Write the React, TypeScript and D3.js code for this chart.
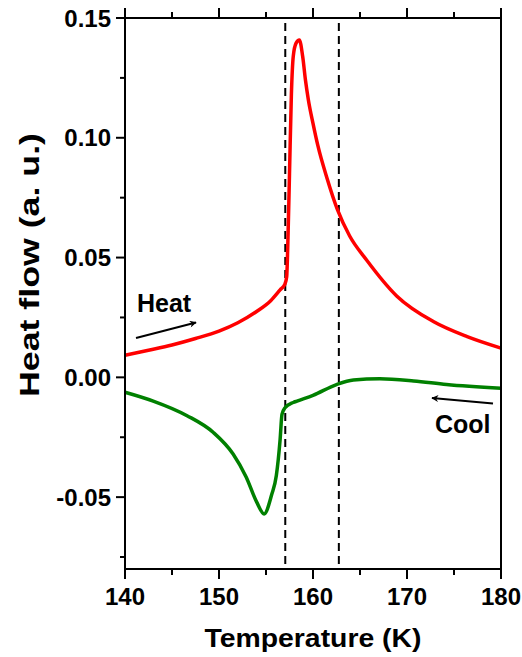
import React from 'react';
import * as d3 from 'd3';

// heating run (red)
const heatTemp = [140, 142.5, 145, 147.5, 150, 152, 154, 155.5, 156.5, 157, 157.2, 157.35, 157.5, 157.7, 157.9, 158.2, 158.55, 158.9, 159.2, 159.5, 160, 160.5, 161.5, 162.6, 163.9, 165.7, 168.9, 172.8, 176.4, 180];
const heatFlow = [0.0092, 0.0113, 0.0135, 0.0162, 0.0193, 0.0228, 0.0275, 0.032, 0.0365, 0.0388, 0.042, 0.06, 0.085, 0.118, 0.134, 0.1395, 0.1408, 0.134, 0.124, 0.116, 0.106, 0.097, 0.083, 0.07, 0.059, 0.049, 0.034, 0.0233, 0.017, 0.0122];

// cooling run (green)
const coolTemp = [140, 143, 146.6, 149.4, 151.5, 152.9, 154, 154.8, 155.6, 156.1, 156.5, 156.7, 157, 157.9, 158.3, 160, 162.5, 164.3, 167.1, 170.7, 174.2, 180];
const coolFlow = [-0.0062, -0.0099, -0.016, -0.023, -0.032, -0.0417, -0.052, -0.057, -0.049, -0.041, -0.026, -0.0155, -0.0128, -0.0105, -0.0099, -0.0075, -0.003, -0.0011, -0.0006, -0.0015, -0.003, -0.0046];

// transition markers
const markerTemps = [157.05, 162.75];

const xMajor = [140, 150, 160, 170, 180];
const xMinor = [145, 155, 165, 175];
const yMajor = [-0.05, 0, 0.05, 0.1, 0.15];
const yMinor = [-0.075, -0.025, 0.025, 0.075, 0.125];
const yLabels = ['-0.05', '0.00', '0.05', '0.10', '0.15'];

const W = 522;
const H = 657;
const margin = { left: 125, right: 21, top: 18, bottom: 88 };
const font = '"Liberation Sans", Arial, sans-serif';

export default function App() {
  const x = d3.scaleLinear().domain([140, 180]).range([margin.left, W - margin.right]);
  const y = d3.scaleLinear().domain([-0.08, 0.15]).range([H - margin.bottom, margin.top]);

  const line = d3
    .line<[number, number]>()
    .x((d) => x(d[0]))
    .y((d) => y(d[1]))
    .curve(d3.curveMonotoneX);

  const heat = heatTemp.map((t, i) => [t, heatFlow[i]] as [number, number]);
  const cool = coolTemp.map((t, i) => [t, coolFlow[i]] as [number, number]);

  const x0 = x(140), x1 = x(180), yTop = y(0.15), yBot = y(-0.08);

  return (
    <svg width={W} height={H} style={{ position: 'absolute', left: 0, top: 0 }} fontFamily={font} fontWeight="bold">
      <rect width={W} height={H} fill="white" />

      {/* dashed transition lines */}
      {markerTemps.map((t) => (
        <line key={t} x1={x(t)} x2={x(t)} y1={yTop + 5} y2={yBot} stroke="black" strokeWidth={2} strokeDasharray="8,5" />
      ))}

      <path d={line(heat) ?? ''} fill="none" stroke="#ff0000" strokeWidth={3.5} strokeLinejoin="round" />
      <path d={line(cool) ?? ''} fill="none" stroke="#008000" strokeWidth={3.5} strokeLinejoin="round" />

      {/* frame */}
      <rect x={x0} y={yTop} width={x1 - x0} height={yBot - yTop} fill="none" stroke="black" strokeWidth={2} />

      {/* x ticks, bottom and top */}
      {xMajor.map((t) => (
        <g key={'xm' + t}>
          <line x1={x(t)} x2={x(t)} y1={yBot} y2={yBot + 10} stroke="black" strokeWidth={2} />
          <line x1={x(t)} x2={x(t)} y1={yTop} y2={yTop - 10} stroke="black" strokeWidth={2} />
          <text x={x(t)} y={605} textAnchor="middle" fontSize={24}>{t}</text>
        </g>
      ))}
      {xMinor.map((t) => (
        <g key={'xn' + t}>
          <line x1={x(t)} x2={x(t)} y1={yBot} y2={yBot + 6} stroke="black" strokeWidth={2} />
          <line x1={x(t)} x2={x(t)} y1={yTop} y2={yTop - 6} stroke="black" strokeWidth={2} />
        </g>
      ))}

      {/* y ticks */}
      {yMajor.map((v, i) => (
        <g key={'ym' + v}>
          <line x1={x0} x2={x0 - 9} y1={y(v)} y2={y(v)} stroke="black" strokeWidth={2} />
          <text x={111} y={y(v) + 8.5} textAnchor="end" fontSize={24}>{yLabels[i]}</text>
        </g>
      ))}
      {yMinor.map((v) => (
        <line key={'yn' + v} x1={x0} x2={x0 - 5} y1={y(v)} y2={y(v)} stroke="black" strokeWidth={2} />
      ))}

      {/* axis titles */}
      <text x={(x0 + x1) / 2} y={647} textAnchor="middle" fontSize={26} textLength={217} lengthAdjust="spacingAndGlyphs">
        Temperature (K)
      </text>
      <text transform={`translate(39,${265}) rotate(-90)`} textAnchor="middle" fontSize={27} textLength={264} lengthAdjust="spacingAndGlyphs">
        Heat flow (a. u.)
      </text>

      {/* annotations */}
      <defs>
        <marker id="ah" viewBox="0 0 10 10" refX="9" refY="5" markerWidth="11" markerHeight="7" markerUnits="userSpaceOnUse" orient="auto">
          <path d="M0,0 L10,5 L0,10 L3,5 Z" fill="black" />
        </marker>
      </defs>
      <text x={137} y={312} fontSize={25}>Heat</text>
      <line x1={136} y1={338} x2={196} y2={322.5} stroke="black" strokeWidth={2} markerEnd="url(#ah)" />
      <text x={435} y={433} fontSize={25}>Cool</text>
      <line x1={493} y1={403.5} x2={432} y2={398} stroke="black" strokeWidth={2} markerEnd="url(#ah)" />
    </svg>
  );
}
